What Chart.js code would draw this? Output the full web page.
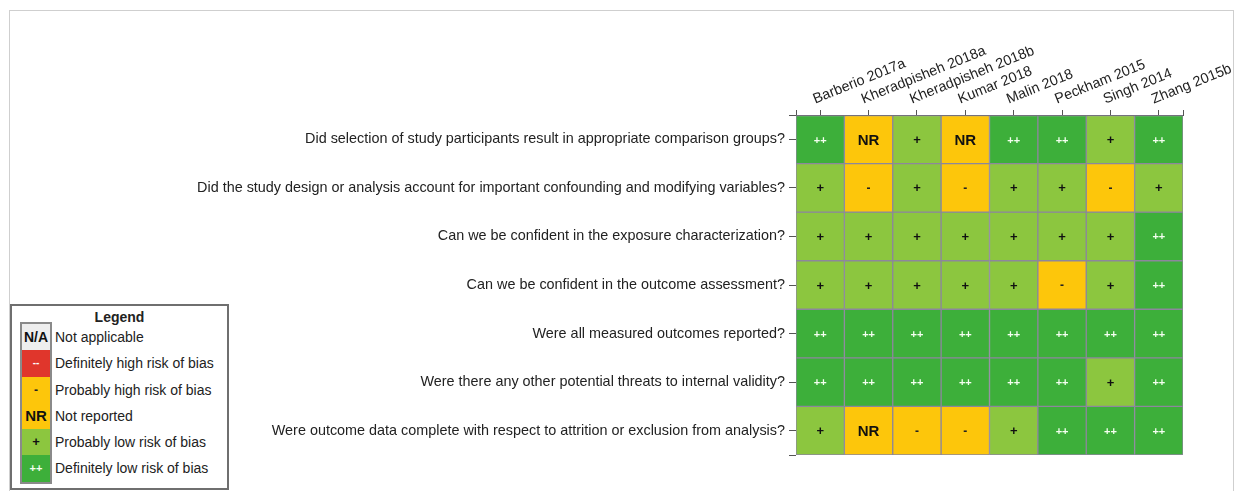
<!DOCTYPE html>
<html>
<head>
<meta charset="utf-8">
<script src="https://cdn.jsdelivr.net/npm/chart.js@4.4.1/dist/chart.umd.min.js"></script>
<style>
  html, body { margin: 0; padding: 0; background: #fff; }
  body { width: 1247px; height: 491px; position: relative; overflow: hidden; font-family: "Liberation Sans", Arial, sans-serif; }
  #frame { position: absolute; left: 9px; top: 10px; width: 1223px; height: 500px; border: 1px solid #cfcfcf; border-bottom: none; }
  #chartbox { position: absolute; left: 0; top: 0; width: 1247px; height: 491px; }
  #legend { position: absolute; left: 10px; top: 304px; width: 215px; height: 182px; border: 2px solid #6f6f6f; background: #fff; }
  #legend .title { position: absolute; left: 0; right: 0; top: 3px; text-align: center; font-weight: bold; font-size: 14px; color: #222; }
  #legend .swatches { position: absolute; left: 8px; top: 16px; width: 28px; border: 2px solid #8a8a8a; }
  #legend .sw { height: 26.3px; line-height: 26.3px; text-align: center; font-weight: bold; }
  #legend .labels { position: absolute; left: 43px; top: 18px; }
  #legend .lab { height: 26.3px; line-height: 26.3px; font-size: 14px; color: #222; white-space: nowrap; }
</style>
</head>
<body>
<div id="frame"></div>
<div id="chartbox"><canvas id="robchart" width="1247" height="491"></canvas></div>
<div id="legend">
  <div class="title">Legend</div>
  <div class="swatches" id="legendswatches"></div>
  <div class="labels" id="legendlabels"></div>
</div>
<script>
var studies = ['Barberio 2017a', 'Kheradpisheh 2018a', 'Kheradpisheh 2018b', 'Kumar 2018',
  'Malin 2018', 'Peckham 2015', 'Singh 2014', 'Zhang 2015b'];

var questions = [
  'Did selection of study participants result in appropriate comparison groups?',
  'Did the study design or analysis account for important confounding and modifying variables?',
  'Can we be confident in the exposure characterization?',
  'Can we be confident in the outcome assessment?',
  'Were all measured outcomes reported?',
  'Were there any other potential threats to internal validity?',
  'Were outcome data complete with respect to attrition or exclusion from analysis?'
];

// one row per question, one entry per study
var ratings = [
  ['++', 'NR', '+', 'NR', '++', '++', '+', '++'],
  ['+', '-', '+', '-', '+', '+', '-', '+'],
  ['+', '+', '+', '+', '+', '+', '+', '++'],
  ['+', '+', '+', '+', '+', '-', '+', '++'],
  ['++', '++', '++', '++', '++', '++', '++', '++'],
  ['++', '++', '++', '++', '++', '++', '+', '++'],
  ['+', 'NR', '-', '-', '+', '++', '++', '++']
];

var legendCodes = ['N/A', '--', '-', 'NR', '+', '++'];
var legendLabels = ['Not applicable', 'Definitely high risk of bias', 'Probably high risk of bias',
  'Not reported', 'Probably low risk of bias', 'Definitely low risk of bias'];

var codeColors = { 'N/A': '#eeeeee', '--': '#e0362c', '-': '#fdc60b', 'NR': '#fdc60b', '+': '#8cc63f', '++': '#3daf3a' };
var codeText = {
  'N/A': { color: '#111', font: 'bold 14px "Liberation Sans"' },
  '--': { color: '#ffffff', font: 'bold 10px "Liberation Sans"' },
  '-': { color: '#222', font: 'bold 12px "Liberation Sans"' },
  'NR': { color: '#111', font: 'bold 15px "Liberation Sans"' },
  '+': { color: '#111', font: 'bold 13px "Liberation Sans"' },
  '++': { color: '#f4fff0', font: 'bold 11px "Liberation Sans"' }
};

// legend
var sw = document.getElementById('legendswatches');
var lb = document.getElementById('legendlabels');
legendCodes.forEach(function(c, i) {
  var d = document.createElement('div');
  d.className = 'sw';
  d.style.background = codeColors[c];
  d.style.color = codeText[c].color;
  d.style.font = codeText[c].font;
  d.style.lineHeight = '26.3px';
  d.textContent = c;
  sw.appendChild(d);
  var l = document.createElement('div');
  l.className = 'lab';
  l.textContent = legendLabels[i];
  lb.appendChild(l);
});

// one floating-bar dataset per question row, all sharing one slot per column
var datasets = questions.map(function(q, r) {
  return {
    label: q,
    data: studies.map(function(s, c) { return { x: c, y: [r, r + 1] }; }),
    codes: ratings[r],
    backgroundColor: ratings[r].map(function(c) { return codeColors[c]; }),
    borderColor: '#8c879c',
    borderWidth: 1,
    borderSkipped: false,
    stack: 'cells',
    barThickness: 'flex',
    barPercentage: 1,
    categoryPercentage: 1
  };
});

var cellText = {
  id: 'cellText',
  afterDatasetsDraw: function(chart) {
    var ctx = chart.ctx;
    ctx.save();
    ctx.textAlign = 'center';
    ctx.textBaseline = 'middle';
    chart.data.datasets.forEach(function(ds, i) {
      chart.getDatasetMeta(i).data.forEach(function(el, j) {
        var code = ds.codes[j];
        var p = el.getCenterPoint();
        ctx.fillStyle = codeText[code].color;
        ctx.font = codeText[code].font;
        ctx.fillText(code, p.x, p.y + 1);
      });
    });
    ctx.restore();
  }
};

var axisFont = { family: '"Liberation Sans", Arial, sans-serif', size: 14.4 };

var ctx = document.getElementById('robchart').getContext('2d');
var robchart = new Chart(ctx, {
  type: 'bar',
  data: { datasets: datasets },
  plugins: [cellText],
  options: {
    responsive: false,
    animation: false,
    layout: { padding: { left: 150, right: 64, top: 0, bottom: 36 } },
    plugins: { legend: { display: false }, tooltip: { enabled: false } },
    scales: {
      x: {
        type: 'linear',
        position: 'top',
        offset: false,
        min: -0.5,
        max: studies.length - 0.5,
        afterBuildTicks: function(scale) {
          var t = [{ value: -0.5 }];
          studies.forEach(function(s, i) { t.push({ value: i }); });
          t.push({ value: studies.length - 0.5 });
          scale.ticks = t;
        },
        afterFit: function(scale) {
          scale.height = 115;
          scale.paddingLeft = 0;
          scale.paddingRight = 0;
        },
        ticks: {
          autoSkip: false,
          minRotation: 22,
          maxRotation: 22,
          padding: 2,
          color: '#222',
          font: axisFont,
          callback: function(v) { return Number.isInteger(v) ? studies[v] : ''; }
        },
        grid: { offset: false, drawOnChartArea: false, drawTicks: true, tickLength: 5, color: '#555' },
        border: { display: true, color: '#555', width: 1 }
      },
      y: {
        type: 'linear',
        stacked: false,
        reverse: true,
        min: 0,
        max: questions.length,
        afterBuildTicks: function(scale) {
          var t = [{ value: 0 }];
          questions.forEach(function(q, i) { t.push({ value: i + 0.5 }); });
          t.push({ value: questions.length });
          scale.ticks = t;
        },
        afterFit: function(scale) {
          scale.width = 646;
          scale.paddingTop = 0;
          scale.paddingBottom = 0;
        },
        ticks: {
          autoSkip: false,
          padding: 4,
          color: '#222',
          font: axisFont,
          callback: function(v) { return Number.isInteger(v) ? '' : questions[Math.floor(v)]; }
        },
        grid: { drawOnChartArea: false, drawTicks: true, tickLength: 7, color: '#555' },
        border: { display: false }
      }
    }
  }
});
</script>
</body>
</html>
